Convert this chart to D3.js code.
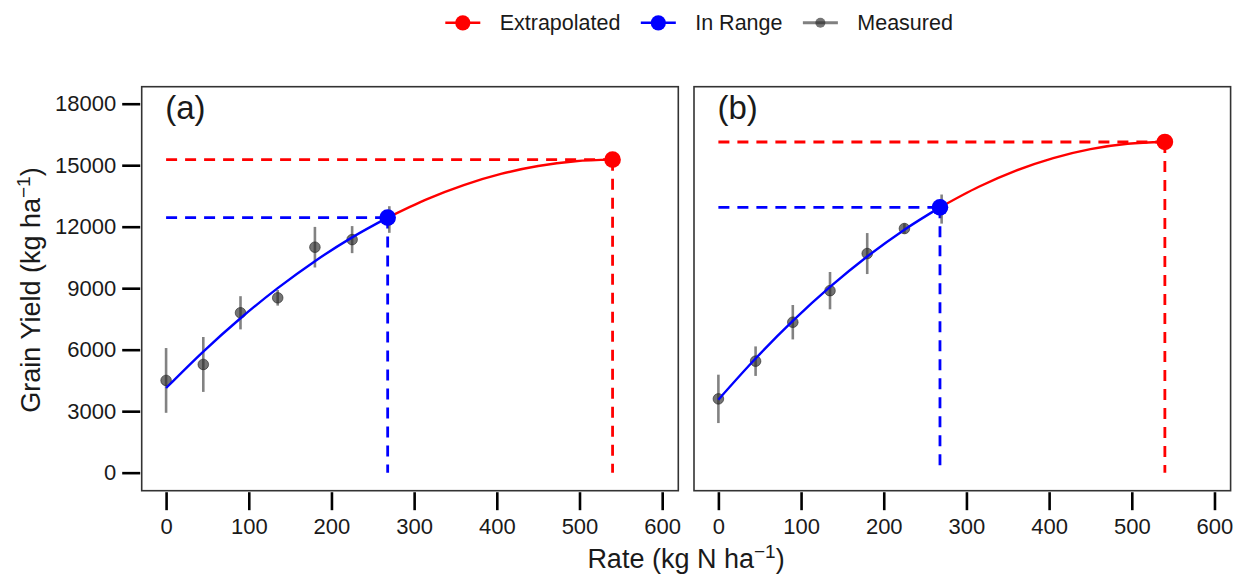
<!DOCTYPE html>
<html>
<head>
<meta charset="utf-8">
<script src="https://cdn.jsdelivr.net/npm/d3@7"></script>
<style>
  body { margin: 0; background: #fff; }
  text { font-family: "Liberation Sans", Arial, sans-serif; fill: #1a1a1a; }
</style>
</head>
<body>
<div id="chart"></div>
<script>
// DATA //
const panelLabels = ["(a)", "(b)"]
const rates = [0, 45, 90, 135, 180, 225, 270]
const measuredA = [4500, 5280, 7800, 8530, 11000, 11370, 12350]
const errA = [1580, 1340, 810, 380, 990, 660, 650]
const measuredB = [3600, 5440, 7340, 8880, 10690, 11910, 12860]
const errB = [1180, 720, 840, 910, 1000, 250, 710]

// fitted response curve
const curveRates = [0, 45, 90, 135, 180, 225, 268, 315, 360, 405, 450, 495, 540]
const fitA = [4130, 5910, 7534, 9004, 10319, 11480, 12444, 13336, 14032, 14574, 14961, 15193, 15270]
const fitB = [3560, 5568, 7401, 9060, 10545, 11854, 12943, 13950, 14736, 15347, 15784, 16046, 16133]

const inRangeRate = [268, 268]
const inRangeYield = [12444, 12943]
const extrapRate = [540, 540]
const extrapYield = [15270, 16133]

const xTicks = [0, 100, 200, 300, 400, 500, 600]
const yTicks = [0, 3000, 6000, 9000, 12000, 15000, 18000]

const legendLabels = ["Extrapolated", "In Range", "Measured"]
const legendColors = ["#ff0000", "#0000ff", "#555555"]

// GLOBAL LAYOUT //
const width = 1244
const height = 579
const panelTop = 86.7
const panelHeight = 404
const panelWidth = 536.6
const panelLefts = [141.7, 694]

const xScale = d3.scaleLinear()
    .domain([-29.5, 619.5])
    .range([0, panelWidth])

const yScale = d3.scaleLinear()
    .domain([-880, 18830])
    .range([panelHeight, 0])

const svg = d3.select("#chart")
    .append("svg")
    .attr("width", width)
    .attr("height", height)

const panels = [
    {measured: measuredA, err: errA, fit: fitA},
    {measured: measuredB, err: errB, fit: fitB},
]

panels.forEach((p, i) => {
    const g = svg.append("g")
        .attr("transform", `translate(${panelLefts[i]},${panelTop})`)

    // x axis
    const xAxis = g.append("g")
        .attr("transform", `translate(0,${panelHeight + 1.5})`)
        .call(d3.axisBottom(xScale).tickValues(xTicks).tickFormat(d3.format("d"))
            .tickSizeInner(18).tickSizeOuter(0).tickPadding(8.5))
    xAxis.select(".domain").remove()
    xAxis.selectAll(".tick line").attr("stroke", "#000").attr("stroke-width", 2.6)
    xAxis.selectAll(".tick text").style("font-size", "22px").attr("fill", "#1a1a1a")

    // y axis only on the first panel
    if (i == 0) {
        const yAxis = g.append("g")
            .attr("transform", "translate(-1.5,0)")
            .call(d3.axisLeft(yScale).tickValues(yTicks).tickFormat(d3.format("d"))
                .tickSizeInner(18).tickSizeOuter(0).tickPadding(6))
        yAxis.select(".domain").remove()
        yAxis.selectAll(".tick line").attr("stroke", "#000").attr("stroke-width", 2.6)
        yAxis.selectAll(".tick text").style("font-size", "22px").attr("fill", "#1a1a1a")
    }

    // dashed guide lines
    const guides = [
        {x1: 0, y1: extrapYield[i], x2: extrapRate[i], y2: extrapYield[i], c: "#ff0000"},
        {x1: extrapRate[i], y1: extrapYield[i], x2: extrapRate[i], y2: 0, c: "#ff0000"},
        {x1: 0, y1: inRangeYield[i], x2: inRangeRate[i], y2: inRangeYield[i], c: "#0000ff"},
        {x1: inRangeRate[i], y1: inRangeYield[i], x2: inRangeRate[i], y2: 0, c: "#0000ff"},
    ]
    g.selectAll(".guide").data(guides)
        .join("line")
        .attr("class", "guide")
        .attr("x1", d => xScale(d.x1))
        .attr("y1", d => yScale(d.y1))
        .attr("x2", d => xScale(d.x2))
        .attr("y2", d => yScale(d.y2))
        .attr("stroke", d => d.c)
        .attr("stroke-width", 2.8)
        .attr("stroke-dasharray", "11,8")

    // measured points with error bars
    const pts = rates.map((r, j) => ({r: r, y: p.measured[j], e: p.err[j]}))
    g.selectAll(".ebar").data(pts)
        .join("line")
        .attr("class", "ebar")
        .attr("x1", d => xScale(d.r))
        .attr("x2", d => xScale(d.r))
        .attr("y1", d => yScale(d.y - d.e))
        .attr("y2", d => yScale(d.y + d.e))
        .attr("stroke", "#4d4d4d")
        .attr("stroke-opacity", 0.7)
        .attr("stroke-width", 2.6)

    g.selectAll(".pt").data(pts)
        .join("circle")
        .attr("class", "pt")
        .attr("cx", d => xScale(d.r))
        .attr("cy", d => yScale(d.y))
        .attr("r", 5.3)
        .attr("fill", "#2a2a2a")
        .attr("fill-opacity", 0.65)
        .attr("stroke", "#222")
        .attr("stroke-opacity", 0.6)
        .attr("stroke-width", 1)

    // fitted curve: blue up to the in-range point, red beyond
    const fitPts = curveRates.map((r, j) => ({r: r, y: p.fit[j]}))
    const line = d3.line()
        .x(d => xScale(d.r))
        .y(d => yScale(d.y))
        .curve(d3.curveMonotoneX)
    const split = curveRates.indexOf(268)
    g.append("path")
        .attr("d", line(fitPts.slice(split)))
        .attr("fill", "none")
        .attr("stroke", "#ff0000")
        .attr("stroke-width", 2.4)
    g.append("path")
        .attr("d", line(fitPts.slice(0, split + 1)))
        .attr("fill", "none")
        .attr("stroke", "#0000ff")
        .attr("stroke-width", 2.4)

    // optimum points
    g.append("circle")
        .attr("cx", xScale(inRangeRate[i]))
        .attr("cy", yScale(inRangeYield[i]))
        .attr("r", 8.3)
        .attr("fill", "#0000ff")
    g.append("circle")
        .attr("cx", xScale(extrapRate[i]))
        .attr("cy", yScale(extrapYield[i]))
        .attr("r", 8.3)
        .attr("fill", "#ff0000")

    // frame
    g.append("rect")
        .attr("width", panelWidth)
        .attr("height", panelHeight)
        .attr("fill", "none")
        .attr("stroke", "#333")
        .attr("stroke-width", 1.6)

    g.append("text")
        .attr("x", 23.5)
        .attr("y", 32)
        .style("font-size", "33px")
        .text(panelLabels[i])
})

// axis titles
const xTitle = svg.append("text")
    .attr("x", 686)
    .attr("y", 568)
    .attr("text-anchor", "middle")
    .style("font-size", "27px")
xTitle.append("tspan").text("Rate (kg N ha")
xTitle.append("tspan").attr("dy", -10).style("font-size", "19px").text("\u22121")
xTitle.append("tspan").attr("dy", 10).text(")")

const yTitle = svg.append("text")
    .attr("transform", "translate(40,290) rotate(-90)")
    .attr("text-anchor", "middle")
    .style("font-size", "27px")
yTitle.append("tspan").text("Grain Yield (kg ha")
yTitle.append("tspan").attr("dy", -10).style("font-size", "19px").text("\u22121")
yTitle.append("tspan").attr("dy", 10).text(")")

// legend
const legend = svg.append("g").attr("transform", "translate(445.3,22.8)")
let lx = 0
legendLabels.forEach((lab, i) => {
    const item = legend.append("g").attr("transform", `translate(${lx},0)`)
    const isMeasured = i == 2
    item.append("line")
        .attr("x1", 0).attr("x2", 35)
        .attr("stroke", legendColors[i])
        .attr("stroke-opacity", isMeasured ? 0.75 : 1)
        .attr("stroke-width", isMeasured ? 3 : 2.6)
    item.append("circle")
        .attr("cx", 17.5)
        .attr("r", isMeasured ? 5 : 7.6)
        .attr("fill", isMeasured ? "#2a2a2a" : legendColors[i])
        .attr("fill-opacity", isMeasured ? 0.65 : 1)
    const t = item.append("text")
        .attr("x", 54.4)
        .attr("y", 7.6)
        .style("font-size", "21.5px")
        .text(lab)
    lx += 54.4 + t.node().getComputedTextLength() + 20.4
})
</script>
</body>
</html>
